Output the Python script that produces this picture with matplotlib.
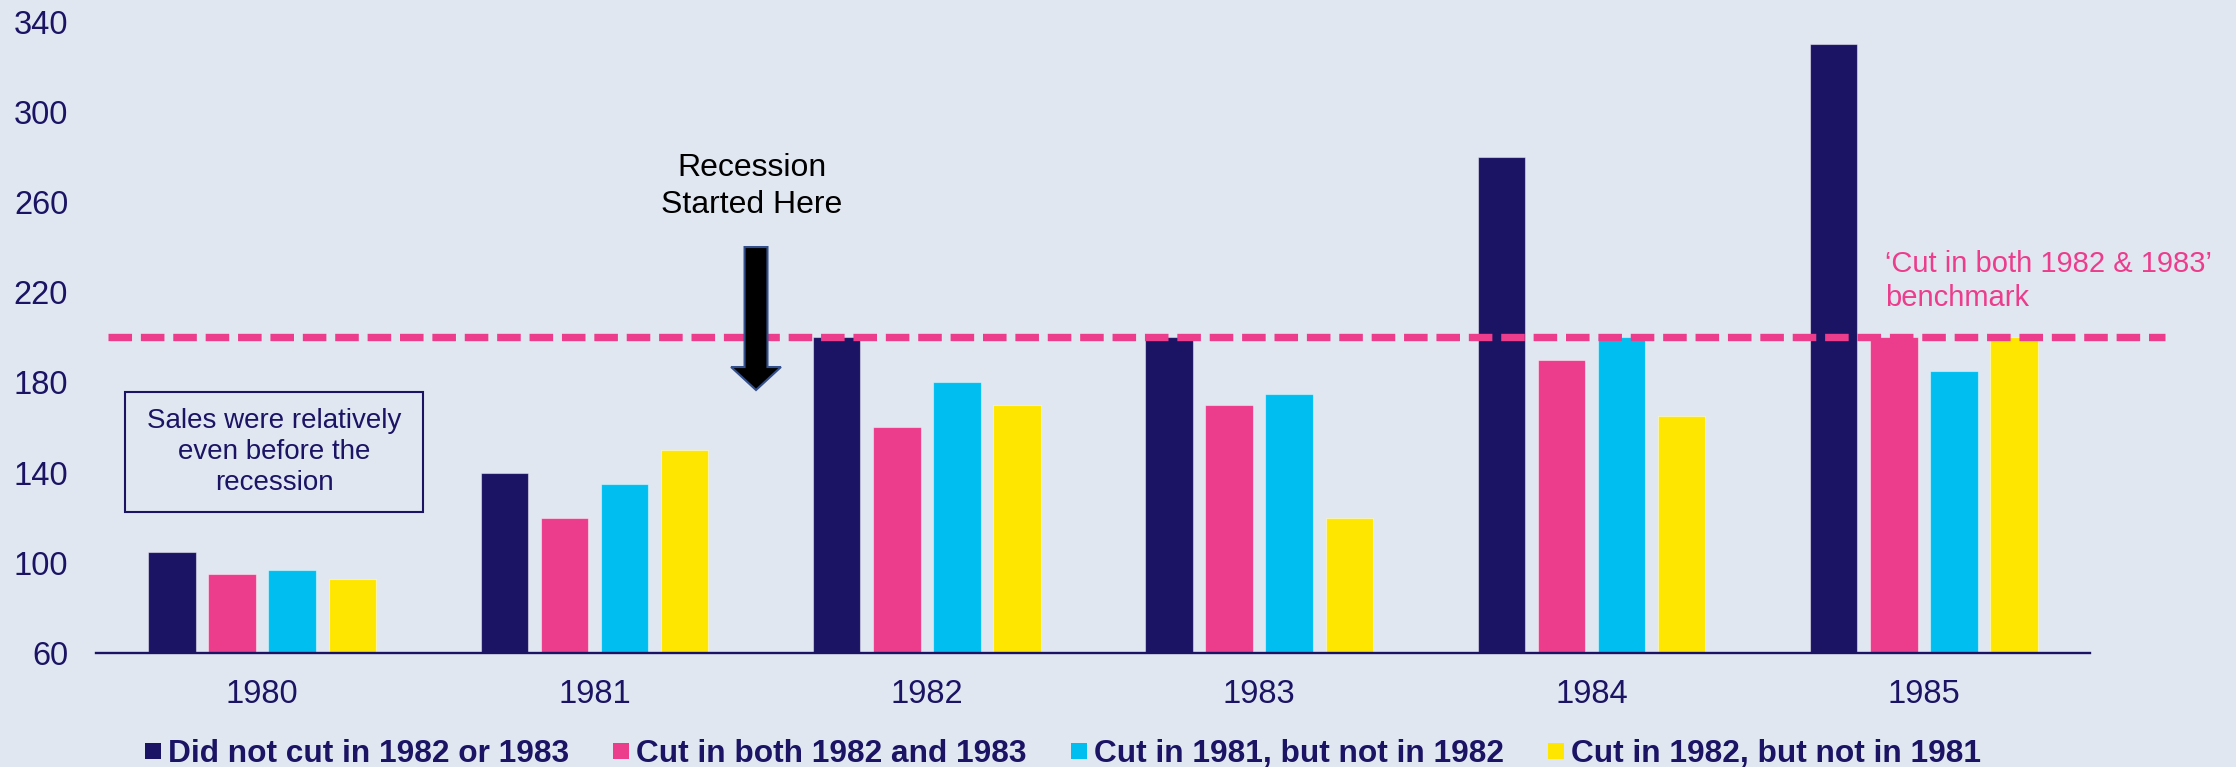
import numpy as np
import matplotlib
matplotlib.use('Agg')
import matplotlib.pyplot as plt
from matplotlib.patches import Rectangle, FancyArrow

# data
years = ['1980', '1981', '1982', '1983', '1984', '1985']
did_not_cut = [105, 140, 200, 200, 280, 330]
cut_both = [95, 120, 160, 170, 190, 200]
cut_1981_not_1982 = [97, 135, 180, 175, 200, 185]
cut_1982_not_1981 = [93, 150, 170, 120, 165, 200]
series_labels = ['Did not cut in 1982 or 1983', 'Cut in both 1982 and 1983',
                 'Cut in 1981, but not in 1982', 'Cut in 1982, but not in 1981']
benchmark = 200
y_ticks = [60, 100, 140, 180, 220, 260, 300, 340]

navy = '#1B1464'
pink = '#EC3C8C'
cyan = '#00BFF0'
yellow = '#FFE600'
bg = '#E1E7F1'
colors = [navy, pink, cyan, yellow]

plt.rcParams['font.family'] = ['Liberation Sans', 'DejaVu Sans']

fig = plt.figure(figsize=(22.36, 7.67), dpi=100, facecolor=bg)
ax = fig.add_axes([96 / 2236, 1 - 653 / 767, (2090 - 96) / 2236, (653 - 21.5) / 767])
ax.set_facecolor(bg)

x = np.arange(len(years))
width = 0.143
step = 0.181
all_series = [did_not_cut, cut_both, cut_1981_not_1982, cut_1982_not_1981]
for i, vals in enumerate(all_series):
    offs = (i - 1.5) * step
    ax.bar(x + offs, np.array(vals) - 60, width, bottom=60, color=colors[i],
           edgecolor=(1, 1, 1, 0.45), linewidth=0.8, zorder=2)

ax.set_xlim(-0.5, 5.5)
ax.set_ylim(60, 340)
ax.set_xticks(x)
ax.set_xticklabels(years)
ax.set_yticks(y_ticks)
ax.tick_params(axis='both', length=0, labelsize=23.5, labelcolor=navy)
ax.tick_params(axis='x', pad=19)
ax.tick_params(axis='y', pad=20)
for s in ['top', 'right', 'left']:
    ax.spines[s].set_visible(False)
ax.spines['bottom'].set_color(navy)
ax.spines['bottom'].set_linewidth(1.7)
ax.spines['bottom'].set_zorder(3)

# benchmark line
ax.plot([-0.464, 5.726], [benchmark, benchmark], color=pink, lw=5.3,
        linestyle=(0, (3.2, 1.2)), solid_capstyle='butt', clip_on=False, zorder=4)
ax.text(4.884, 225, '\u2018Cut in both 1982 & 1983\u2019\nbenchmark', color=pink,
        fontsize=21, ha='left', va='center', linespacing=1.25)

# recession arrow
arr = FancyArrow(1.486, 240, 0, -63.4, width=0.069, head_width=0.15,
                 head_length=10.2, length_includes_head=True,
                 facecolor='black', edgecolor='#34508C', linewidth=1.5, zorder=5)
ax.add_patch(arr)
ax.text(1.474, 267, 'Recession\nStarted Here', color='black', fontsize=23,
        ha='center', va='center', linespacing=1.3)

# note box
box = Rectangle((-0.413, 122.5), 0.897, 53.2, facecolor='none', edgecolor=navy,
                linewidth=1.5, zorder=3)
ax.add_patch(box)
ax.text(0.036, 149.1, 'Sales were relatively\neven before the\nrecession', color=navy,
        fontsize=20, ha='center', va='center', linespacing=1.25)

# legend drawn by hand along the bottom
sq_left = [145, 613, 1071, 1548]
for i, lab in enumerate(series_labels):
    fig.patches.append(Rectangle((sq_left[i] / 2236, 1 - 759 / 767), 16 / 2236, 16 / 767,
                                 transform=fig.transFigure, facecolor=colors[i],
                                 edgecolor='none'))
    fig.text((sq_left[i] + 23) / 2236, 1 - 762 / 767, lab, color=navy, fontsize=22.8,
             fontweight='bold', ha='left', va='baseline')

fig.savefig('out.png', dpi=100, facecolor=bg)
